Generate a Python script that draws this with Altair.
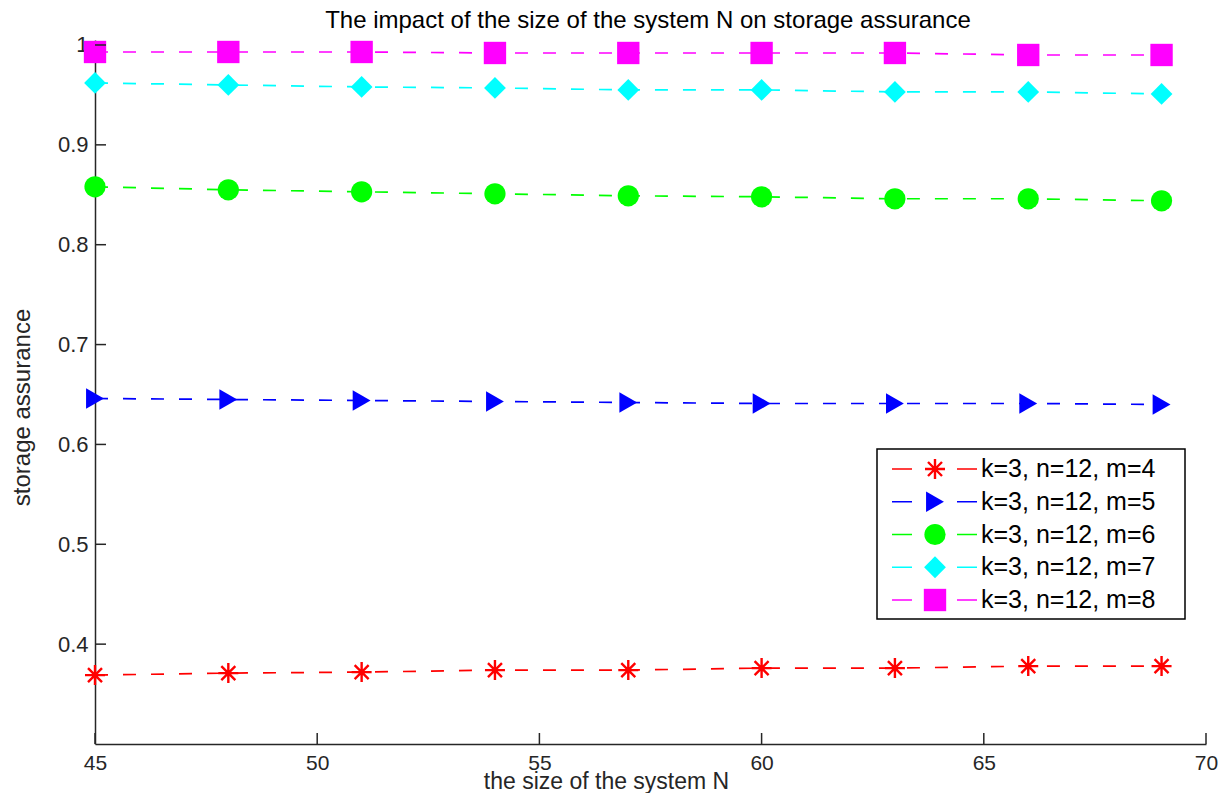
import altair as alt
import pandas as pd

# ---- data ----
N = [45, 48, 51, 54, 57, 60, 63, 66, 69]
m4 = [0.369, 0.371, 0.372, 0.374, 0.374, 0.376, 0.376, 0.378, 0.378]
m5 = [0.646, 0.645, 0.644, 0.643, 0.642, 0.641, 0.641, 0.641, 0.640]
m6 = [0.858, 0.855, 0.853, 0.851, 0.849, 0.848, 0.846, 0.846, 0.844]
m7 = [0.962, 0.960, 0.958, 0.957, 0.955, 0.955, 0.953, 0.953, 0.951]
m8 = [0.993, 0.993, 0.993, 0.992, 0.992, 0.992, 0.992, 0.990, 0.990]

labels = ["k=3, n=12, m=4", "k=3, n=12, m=5", "k=3, n=12, m=6",
          "k=3, n=12, m=7", "k=3, n=12, m=8"]
colors = ["#ff0000", "#0000ff", "#00ff00", "#00ffff", "#ff00ff"]
ASTERISK = "M-1,0L1,0M0,-1L0,1M-0.7,-0.7L0.7,0.7M-0.7,0.7L0.7,-0.7"
shapes = [ASTERISK, "triangle-right", "circle", "diamond", "square"]
sizes = [400, 500, 400, 500, 324]

x_ticks = [45, 50, 55, 60, 65, 70]
y_ticks = [0.4, 0.5, 0.6, 0.7, 0.8, 0.9, 1.0]

title_text = "The impact of the size of the system N on storage assurance"
x_title = "the size of the system N"
y_title = "storage assurance"

# ---- tables ----
rows = []
for lab, vals in zip(labels, [m4, m5, m6, m7, m8]):
    for n, v in zip(N, vals):
        rows.append({"N": n, "value": v, "series": lab})
df = pd.DataFrame(rows)
leg_df = pd.DataFrame({"series": labels})
xt_df = pd.DataFrame({"N": x_ticks})
yt_df = pd.DataFrame({"value": y_ticks})
one_df = pd.DataFrame({"series": [labels[0]]})

W, H = 1111, 704
FONT = "Liberation Sans"
INK = "#262626"

x_enc = alt.X("N:Q", scale=alt.Scale(domain=[45, 70], nice=False, zero=False),
              axis=alt.Axis(values=x_ticks, title=x_title, grid=False, ticks=False,
                            tickSize=0, labelFlush=False, labelPadding=8,
                            labelFontSize=21, titleFontSize=23, titleFontWeight="normal",
                            titleX=511, titleY=44, titleBaseline="alphabetic",
                            domainColor=INK, domainWidth=1.5,
                            labelColor=INK, titleColor=INK))
y_enc = alt.Y("value:Q", scale=alt.Scale(domain=[0.3, 1.005], nice=False, zero=False),
              axis=alt.Axis(values=y_ticks, format="~g", title=y_title, grid=False,
                            ticks=False, tickSize=0, labelFlush=False, labelPadding=7,
                            labelFontSize=22, titleFontSize=24, titleFontWeight="normal",
                            titleX=-66, titleY=367, titleBaseline="alphabetic",
                            domainColor=INK, domainWidth=1.5,
                            labelColor=INK, titleColor=INK))
color_enc = alt.Color("series:N", scale=alt.Scale(domain=labels, range=colors), legend=None)
shape_enc = alt.Shape("series:N", scale=alt.Scale(domain=labels, range=shapes), legend=None)
size_enc = alt.Size("series:N", scale=alt.Scale(domain=labels, range=sizes), legend=None)

base = alt.Chart(df)

lines = base.mark_line(strokeDash=[13, 15], strokeWidth=1.7).encode(
    x=x_enc, y=y_enc, color=color_enc, detail="series:N")

pts_filled = base.transform_filter(alt.datum.series != labels[0]).mark_point(
    filled=True, opacity=1).encode(
    x=x_enc, y=y_enc, color=color_enc, shape=shape_enc, size=size_enc)

pts_star = base.transform_filter(alt.datum.series == labels[0]).mark_point(
    filled=False, opacity=1, strokeWidth=2.4).encode(
    x=x_enc, y=y_enc, color=color_enc, shape=shape_enc, size=size_enc)

# inward tick marks (MATLAB style)
xticks = alt.Chart(xt_df).mark_rule(color=INK, strokeWidth=1.5).encode(
    x=x_enc, y=alt.datum(0.3), y2=alt.value(H - 11))
yticks = alt.Chart(yt_df).mark_rule(color=INK, strokeWidth=1.5).encode(
    y=y_enc, x=alt.datum(45), x2=alt.value(11))

main = alt.layer(lines, pts_filled, pts_star, xticks, yticks)

# ---- legend ----
leg_y = alt.Y("series:N", scale=alt.Scale(domain=labels, range=[429, 560], type="point",
                                            padding=0), axis=None)
leg_box = alt.Chart(one_df).mark_rect(
    fill="white", stroke="#000000", strokeWidth=1.5).encode(
    x=alt.value(782), x2=alt.value(1090), y=alt.value(409), y2=alt.value(579))
leg_line = alt.Chart(leg_df).mark_rule(strokeDash=[20, 45], strokeWidth=1.7).encode(
    x=alt.value(797), x2=alt.value(882), y=leg_y, color=color_enc)
leg_pts = alt.Chart(leg_df).transform_filter(alt.datum.series != labels[0]).mark_point(
    filled=True, opacity=1).encode(
    x=alt.value(840), y=leg_y, color=color_enc, shape=shape_enc, size=size_enc)
leg_star = alt.Chart(leg_df).transform_filter(alt.datum.series == labels[0]).mark_point(
    filled=False, opacity=1, strokeWidth=2.4).encode(
    x=alt.value(840), y=leg_y, color=color_enc, shape=shape_enc, size=size_enc)
leg_text = alt.Chart(leg_df).mark_text(align="left", baseline="middle", fontSize=25,
                                       color="#000000", font=FONT).encode(
    x=alt.value(886), y=leg_y, text="series:N")

# chart title as a text mark centred over the plot
title_mark = alt.Chart(one_df).mark_text(align="center", baseline="alphabetic", fontSize=24,
                                         color="#000000", font=FONT).encode(
    x=alt.value(553), y=alt.value(-12), text=alt.value(title_text))

legend = alt.layer(leg_box, leg_line, leg_pts, leg_star, leg_text, title_mark)

chart = alt.layer(main, legend).resolve_scale(y="independent").properties(
    width=W, height=H,
    autosize=alt.AutoSizeParams(type="none"),
    padding={"left": 87, "top": 32, "right": 12, "bottom": 49},
).configure(font=FONT).configure_view(stroke="transparent")

chart.save("out.html", embed_options={"renderer": "svg", "actions": False})
